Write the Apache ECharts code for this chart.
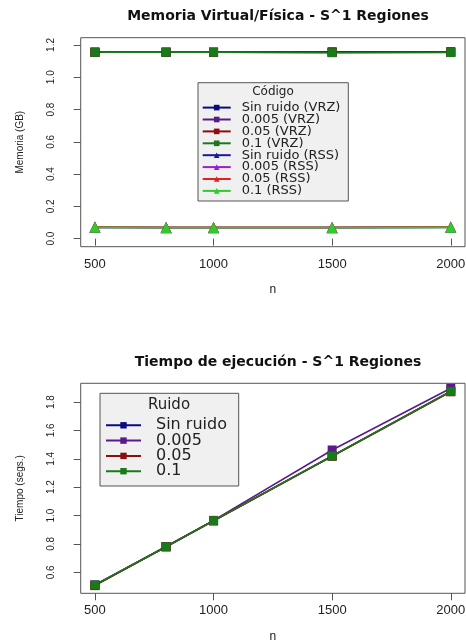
<!DOCTYPE html>
<html>
<head>
<meta charset="utf-8">
<script src="https://cdn.jsdelivr.net/npm/echarts@6/dist/echarts.min.js"></script>
<style>html,body{margin:0;padding:0;background:#fff}#c{width:466px;height:644px}</style>
</head>
<body>
<div id="c"></div>
<script>
// ---- data ----
const nValues = [500, 800, 1000, 1500, 2000];
const xTicks = [500, 1000, 1500, 2000];
const memTicks = [0.0, 0.2, 0.4, 0.6, 0.8, 1.0, 1.2];
const timeTicks = [0.6, 0.8, 1.0, 1.2, 1.4, 1.6, 1.8];

const memNames = ['Sin ruido (VRZ)', '0.005 (VRZ)', '0.05 (VRZ)', '0.1 (VRZ)',
                  'Sin ruido (RSS)', '0.005 (RSS)', '0.05 (RSS)', '0.1 (RSS)'];
const vrzSinRuido = [1.155, 1.155, 1.155, 1.157, 1.156];
const vrz0005     = [1.155, 1.155, 1.155, 1.156, 1.158];
const vrz005      = [1.155, 1.155, 1.155, 1.154, 1.155];
const vrz01       = [1.155, 1.155, 1.155, 1.152, 1.153];
const rssSinRuido = [0.069, 0.068, 0.068, 0.068, 0.070];
const rss0005     = [0.070, 0.069, 0.069, 0.069, 0.071];
const rss005      = [0.073, 0.070, 0.070, 0.070, 0.073];
const rss01       = [0.070, 0.068, 0.068, 0.068, 0.070];

const timeNames = ['Sin ruido', '0.005', '0.05', '0.1'];
const tSinRuido = [0.510, 0.780, 0.963, 1.420, 1.876];
const t0005     = [0.510, 0.782, 0.966, 1.462, 1.897];
const t005      = [0.506, 0.780, 0.963, 1.418, 1.872];
const t01       = [0.510, 0.780, 0.964, 1.420, 1.875];

// ---- styles ----
const memColors = ['#0b0b80', '#5a1a8a', '#8b0f0f', '#1a7a1a', '#1a1a99', '#9b1bd6', '#dd2222', '#2ccc2c'];
const timeColors = ['#0b0b80', '#5a1a8a', '#8b0f0f', '#1a7a1a'];
const memData = [vrzSinRuido, vrz0005, vrz005, vrz01, rssSinRuido, rss0005, rss005, rss01];
const timeData = [tSinRuido, t0005, t005, t01];

const FONT = 'Liberation Sans';
const axisCol = '#555';

function pairs(arr) { return nValues.map((n, i) => [n, arr[i]]); }

const series = [];
memData.forEach((d, i) => {
  const tri = i >= 4;
  series.push({
    name: memNames[i], type: 'line', xAxisIndex: 0, yAxisIndex: 0,
    data: pairs(d), symbol: tri ? 'triangle' : 'rect', symbolSize: tri ? 11 : 9,
    lineStyle: { color: memColors[i], width: 1.6 },
    itemStyle: { color: memColors[i] }, animation: false
  });
});
timeData.forEach((d, i) => {
  series.push({
    name: timeNames[i], type: 'line', xAxisIndex: 1, yAxisIndex: 1,
    data: pairs(d), symbol: 'rect', symbolSize: 9,
    lineStyle: { color: timeColors[i], width: 1.6 },
    itemStyle: { color: timeColors[i] }, animation: false
  });
});

function xAxis(gi) {
  return {
    type: 'value', gridIndex: gi, min: 440, max: 2060,
    name: 'n', nameLocation: 'middle', nameGap: 37,
    nameTextStyle: { fontFamily: FONT, fontSize: 12, color: '#222' },
    axisLine: { show: false }, splitLine: { show: false },
    axisTick: { show: true, inside: false, length: 7, customValues: xTicks, lineStyle: { color: axisCol } },
    axisLabel: { customValues: xTicks, margin: 11, fontFamily: FONT, fontSize: 13, color: '#222',
                 formatter: v => String(v) }
  };
}
function yAxis(gi, min, max, ticks, name) {
  return {
    type: 'value', gridIndex: gi, min: min, max: max,
    name: name, nameLocation: 'middle', nameGap: 55,
    nameTextStyle: { fontFamily: FONT, fontSize: 10, color: '#222' },
    axisLine: { show: false }, splitLine: { show: false },
    axisTick: { show: true, inside: false, length: 7, customValues: ticks, lineStyle: { color: axisCol } },
    axisLabel: { customValues: ticks, rotate: 90, margin: 24, fontFamily: FONT, fontSize: 10, color: '#222',
                 formatter: v => v.toFixed(1) }
  };
}

const chart = echarts.init(document.getElementById('c'), null, { renderer: 'canvas' });
chart.setOption({
  animation: false,
  backgroundColor: '#fff',
  title: [
    { text: 'Memoria Virtual/Física - S^1 Regiones', left: 273, top: 4, textAlign: 'center',
      textStyle: { fontFamily: 'DejaVu Sans', fontWeight: 'bold', fontSize: 14, color: '#111' } },
    { text: 'Tiempo de ejecución - S^1 Regiones', left: 273, top: 350, textAlign: 'center',
      textStyle: { fontFamily: 'DejaVu Sans', fontWeight: 'bold', fontSize: 14, color: '#111' } }
  ],
  grid: [
    { left: 80.7, right: 1, top: 37.7, height: 209, show: true, borderColor: axisCol, borderWidth: 1,
      backgroundColor: 'transparent', outerBoundsMode: 'none', containLabel: false },
    { left: 80.7, right: 1, top: 383.3, height: 210, show: true, borderColor: axisCol, borderWidth: 1,
      backgroundColor: 'transparent', outerBoundsMode: 'none', containLabel: false }
  ],
  xAxis: [xAxis(0), xAxis(1)],
  yAxis: [
    yAxis(0, -0.05, 1.245, memTicks, 'Memoria (GB)'),
    yAxis(1, 0.452, 1.932, timeTicks, 'Tiempo (segs.)')
  ],
  graphic: [
    { type: 'rect', shape: { x: 198, y: 82.7, width: 150.3, height: 118.3 },
      style: { fill: '#f0f0f0', stroke: axisCol, lineWidth: 1 }, z: 3 },
    { type: 'text', x: 273, y: 92, z: 4,
      style: { text: 'Código', fontFamily: 'DejaVu Sans', fontSize: 12, fill: '#222', align: 'center', verticalAlign: 'middle' } },
    { type: 'rect', shape: { x: 100, y: 393.3, width: 138.7, height: 92.7 },
      style: { fill: '#f0f0f0', stroke: axisCol, lineWidth: 1 }, z: 3 },
    { type: 'text', x: 169, y: 405, z: 4,
      style: { text: 'Ruido', fontFamily: 'DejaVu Sans', fontSize: 15, fill: '#222', align: 'center', verticalAlign: 'middle' } }
  ],
  legend: [
    { data: memNames, orient: 'vertical', left: 201.7, top: 101.1, padding: 0, itemGap: -1.1,
      itemWidth: 28, itemHeight: 7, z: 5,
      textStyle: { fontFamily: 'DejaVu Sans', fontSize: 13, lineHeight: 11.8, color: '#222', padding: [0, 0, 0, 6] } },
    { data: timeNames, orient: 'vertical', left: 105, top: 417.3, padding: 0, itemGap: -0.7,
      itemWidth: 35, itemHeight: 8, z: 5,
      textStyle: { fontFamily: 'DejaVu Sans', fontSize: 16, lineHeight: 15.3, color: '#222', padding: [0, 0, 0, 10] } }
  ],
  series: series
});
</script>
</body>
</html>
